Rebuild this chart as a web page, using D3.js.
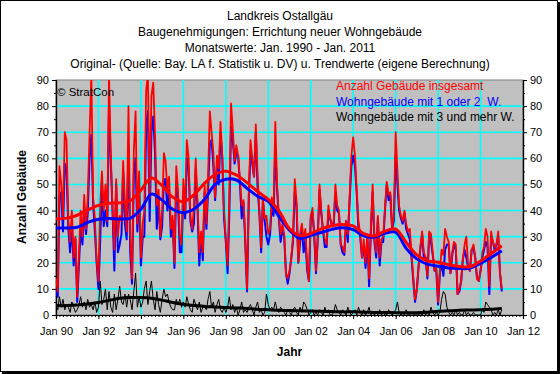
<!DOCTYPE html>
<html>
<head>
<meta charset="utf-8">
<script src="https://cdn.jsdelivr.net/npm/d3@7"></script>
<style>
  body { margin: 0; background: #fff; }
  text { font-family: Arial, "Liberation Sans", sans-serif; }
</style>
</head>
<body>
<svg id="chart"></svg>
<script>
// titles and legend
const titleLines = [
    "Landkreis Ostallgäu",
    "Baugenehmigungen: Errichtung neuer Wohngebäude",
    "Monatswerte: Jan. 1990 - Jan. 2011",
    "Original- (Quelle: Bay. LA f. Statistik u. DV) u. Trendwerte (eigene Berechnung)"
];
const legendLabels = ["Anzahl Gebäude insgesamt", "Wohngebäude mit 1 oder 2  W.", "Wohngebäude mit 3 und mehr W."];
const legendColors = ["#ff0000", "#0000ff", "#000000"];

// monthly values Jan 1990 .. Jan 2011
const total = [
    14, 9, 57, 50, 38, 70, 67, 36, 28, 40, 22, 30,   // 1990
    7, 24, 40, 30, 46, 33, 45, 69, 92, 45, 37, 21,   // 1991
    13, 42, 55, 40, 50, 36, 92, 61, 40, 25, 52, 30,  // 1992
    38, 36, 59, 43, 32, 80, 30, 14, 63, 78, 35, 55,  // 1993
    22, 35, 40, 86, 92, 45, 84, 89, 69, 42, 48, 30,  // 1994
    40, 62, 59, 48, 53, 33, 38, 20, 57, 48, 30, 27,  // 1995
    52, 40, 67, 60, 38, 33, 41, 60, 43, 24, 32, 24,  // 1996
    50, 35, 53, 78, 70, 62, 45, 61, 56, 74, 61, 40,  // 1997
    29, 19, 45, 81, 71, 59, 65, 61, 52, 42, 44, 30,  // 1998
    10, 48, 67, 60, 53, 73, 54, 40, 26, 44, 37, 38,  // 1999
    31, 33, 45, 40, 74, 50, 38, 31, 35, 31, 16, 14,  // 2000
    17, 22, 30, 52, 44, 20, 31, 35, 29, 33, 19, 13,  // 2001
    38, 41, 31, 17, 29, 50, 40, 32, 29, 27, 42, 37,  // 2002
    34, 36, 50, 42, 40, 27, 26, 24, 36, 31, 45, 61,  // 2003
    68, 61, 48, 36, 31, 22, 29, 20, 31, 14, 33, 50,  // 2004
    29, 24, 38, 22, 29, 30, 41, 51, 46, 47, 33, 38,  // 2005
    70, 55, 42, 38, 36, 40, 35, 32, 33, 24, 14, 6,   // 2006
    10, 19, 26, 32, 24, 22, 15, 32, 31, 24, 17, 18,  // 2007
    5, 17, 25, 23, 33, 30, 28, 16, 24, 28, 27, 8,    // 2008
    10, 13, 21, 27, 30, 19, 17, 25, 27, 22, 14, 13,  // 2009
    17, 24, 26, 33, 30, 11, 32, 28, 26, 27, 32, 16,  // 2010
    10                                               // Jan 2011
];
const oneTwo = [
    10, 7, 45, 47, 32, 58, 56, 33, 24, 35, 19, 29,
    5, 20, 33, 27, 41, 31, 39, 60, 69, 43, 32, 20,
    10, 29, 51, 34, 40, 34, 80, 58, 39, 17, 50, 24,
    27, 31, 55, 35, 29, 65, 24, 12, 54, 60, 32, 48,
    19, 30, 30, 72, 78, 36, 70, 76, 62, 33, 44, 29,
    34, 52, 52, 40, 48, 30, 36, 18, 51, 44, 24, 24,
    47, 37, 60, 56, 36, 32, 35, 56, 41, 19, 31, 21,
    47, 33, 47, 66, 67, 57, 44, 57, 50, 70, 60, 37,
    28, 16, 38, 72, 67, 58, 62, 61, 50, 37, 43, 28,
    9, 45, 63, 58, 53, 70, 49, 39, 24, 44, 36, 30,
    27, 31, 42, 38, 64, 48, 37, 28, 33, 30, 16, 12,
    16, 22, 28, 47, 42, 20, 28, 33, 24, 29, 17, 13,
    37, 39, 31, 16, 29, 48, 39, 32, 26, 26, 40, 37,
    34, 35, 46, 40, 39, 27, 24, 23, 36, 28, 44, 57,
    61, 57, 47, 33, 30, 22, 26, 18, 30, 11, 33, 47,
    28, 22, 37, 19, 28, 28, 40, 50, 44, 46, 33, 36,
    61, 50, 40, 37, 35, 39, 33, 31, 29, 22, 13, 5,
    10, 19, 25, 31, 22, 22, 14, 31, 28, 23, 17, 17,
    4, 16, 20, 15, 25, 27, 27, 16, 23, 27, 25, 8,
    9, 13, 21, 25, 22, 18, 17, 25, 26, 22, 14, 13,
    17, 22, 25, 28, 26, 8, 30, 28, 25, 27, 30, 16,
    9
];
const threePlus = [
    4, 2, 7, 3, 6, 2, 4, 3, 1, 5, 3, 1,
    2, 4, 7, 3, 5, 2, 6, 3, 4, 2, 5, 1,
    3, 13, 4, 6, 10, 2, 9, 3, 1, 8, 2, 6,
    11, 5, 4, 8, 3, 8, 6, 2, 9, 16, 3, 7,
    3, 5, 10, 13, 4, 9, 13, 6, 2, 9, 4, 1,
    6, 10, 7, 8, 5, 3, 2, 2, 6, 4, 6, 3,
    5, 3, 7, 4, 2, 1, 6, 4, 2, 5, 1, 3,
    3, 2, 6, 9, 3, 5, 1, 4, 6, 2, 1, 3,
    1, 3, 7, 2, 4, 1, 3, 0, 2, 5, 1, 2,
    1, 3, 4, 2, 0, 3, 5, 1, 2, 0, 1, 8,
    4, 2, 3, 2, 5, 2, 1, 3, 2, 1, 0, 2,
    1, 0, 2, 3, 1, 0, 3, 1, 5, 4, 2, 0,
    1, 2, 0, 1, 0, 2, 1, 0, 3, 1, 2, 0,
    0, 1, 4, 2, 1, 0, 2, 1, 0, 3, 1, 0,
    1, 2, 0, 3, 1, 0, 2, 0, 1, 3, 0, 1,
    0, 1, 0, 2, 0, 1, 0, 0, 2, 1, 0, 1,
    2, 5, 1, 0, 1, 0, 2, 0, 0, 1, 0, 0,
    0, 0, 1, 0, 2, 0, 1, 0, 3, 1, 0, 1,
    0, 1, 6, 9, 8, 3, 1, 0, 1, 0, 2, 0,
    1, 0, 0, 2, 0, 1, 0, 0, 1, 0, 0, 0,
    0, 2, 1, 5, 4, 3, 2, 0, 1, 0, 2, 0,
    2
];

// trend values, every 6 months Jan 1990 .. Jan 2011
const totalTrend = [36.8, 37.1, 38.2, 40.2, 42, 42.8, 43, 43.8, 47.8, 52.5, 49.5, 45.2, 43.4, 46, 50.5, 53.8,
    55.1, 53.6, 50.7, 47.3, 44.3, 40, 33, 30.4, 31.2, 33, 34.2, 34.7, 34.1, 31.2, 30.3, 32.1, 32.9, 27.8,
    23, 20.7, 20.2, 19.3, 18.6, 18.5, 20.7, 23.5, 26.5];
const oneTwoTrend = [33.3, 33.3, 33.6, 35.5, 36.7, 37, 36.8, 37, 40.5, 46.3, 44, 40.5, 39.2, 40.6, 44.3, 50,
    52, 51.7, 48.5, 45.5, 43.5, 37.8, 32.5, 29.3, 30.5, 31.6, 32.8, 33.4, 32.7, 30.3, 29.8, 31.3, 31.7, 25.5,
    21.5, 19.5, 18.7, 18, 17.8, 17.9, 19.8, 22, 24.6];
const threePlusTrend = [3.6, 3.6, 3.8, 4.2, 4.8, 5.6, 6.4, 6.7, 6.7, 6.4, 5.7, 4.8, 4.1, 3.6, 3.3, 3.1,
    2.9, 2.7, 2.5, 2.2, 2.0, 1.8, 1.7, 1.6, 1.5, 1.4, 1.3, 1.2, 1.2, 1.1, 1.0, 1.0, 0.9, 0.9,
    0.9, 1.1, 1.4, 1.6, 1.8, 1.9, 2.0, 2.2, 2.5];

const yTicks = [0, 10, 20, 30, 40, 50, 60, 70, 80, 90];
const xTickYears = [1990, 1992, 1994, 1996, 1998, 2000, 2002, 2004, 2006, 2008, 2010, 2012];

const width = 560, height = 374;
const plotLeft = 56, plotRight = 523, plotTop = 80, plotBottom = 315;

const svg = d3.select("#chart")
    .attr("width", width)
    .attr("height", height);

// frame with shadow
svg.append("rect").attr("x", 2).attr("y", 2).attr("width", 558).attr("height", 372).attr("fill", "#000");
svg.append("rect").attr("x", 0.5).attr("y", 0.5).attr("width", 557).attr("height", 371)
    .attr("fill", "#fff").attr("stroke", "#000");

const x = d3.scaleTime()
    .domain([new Date(1990, 0, 1), new Date(2012, 0, 1)])
    .range([plotLeft, plotRight]);
const y = d3.scaleLinear().domain([0, 90]).range([plotBottom, plotTop]);

// titles
svg.append("g").selectAll("text")
    .data(titleLines)
    .join("text")
    .attr("x", 280)
    .attr("y", (d, i) => [20, 35.5, 51.5, 68][i])
    .attr("text-anchor", "middle")
    .style("font-size", "12px")
    .text(d => d);

// plot area
svg.append("rect")
    .attr("x", plotLeft).attr("y", plotTop)
    .attr("width", plotRight - plotLeft).attr("height", plotBottom - plotTop)
    .attr("fill", "#c0c0c0")
    .attr("stroke", "#808080");

svg.append("clipPath").attr("id", "clip")
    .append("rect").attr("x", plotLeft).attr("y", plotTop)
    .attr("width", plotRight - plotLeft).attr("height", plotBottom - plotTop);

// grid
const grid = svg.append("g").attr("stroke", "#00ffff").attr("stroke-width", 1.6);
grid.selectAll(".h").data(yTicks.slice(1, -1)).join("line")
    .attr("x1", plotLeft).attr("x2", plotRight)
    .attr("y1", d => y(d)).attr("y2", d => y(d));
grid.selectAll(".v").data(xTickYears.slice(1, -1)).join("line")
    .attr("x1", d => x(new Date(d, 0, 1))).attr("x2", d => x(new Date(d, 0, 1)))
    .attr("y1", plotTop).attr("y2", plotBottom);

// axes
const minorY = d3.range(5, 90, 10);
svg.append("g").attr("transform", `translate(${plotLeft},0)`)
    .call(d3.axisLeft(y).tickValues(yTicks).tickSize(4).tickPadding(3));
svg.append("g").attr("transform", `translate(${plotLeft},0)`)
    .call(d3.axisLeft(y).tickValues(minorY).tickSize(2).tickFormat(""));
svg.append("g").attr("transform", `translate(${plotRight},0)`)
    .call(d3.axisRight(y).tickValues(yTicks).tickSize(4).tickPadding(3));
svg.append("g").attr("transform", `translate(${plotRight},0)`)
    .call(d3.axisRight(y).tickValues(minorY).tickSize(2).tickFormat(""));

const monthTicks = d3.range(0, 264, 2).map(i => new Date(1990, i, 1));
svg.append("g").attr("transform", `translate(0,${plotBottom})`)
    .call(d3.axisBottom(x).tickValues(monthTicks).tickSize(2).tickFormat(""));
svg.append("g").attr("transform", `translate(0,${plotBottom})`)
    .call(d3.axisBottom(x)
        .tickValues(xTickYears.map(yr => new Date(yr, 0, 1)))
        .tickSize(4).tickPadding(8)
        .tickFormat(d => "Jan " + d3.timeFormat("%y")(d)));

svg.selectAll(".domain").attr("stroke", "#000").attr("stroke-width", 1.2);
svg.selectAll(".tick line").attr("stroke", "#000");
svg.selectAll(".tick text").style("font-size", "11px").attr("fill", "#000")
    .style("font-family", "Arial, 'Liberation Sans', sans-serif");

// axis titles
svg.append("text")
    .attr("transform", "translate(26,197) rotate(-90)")
    .attr("text-anchor", "middle")
    .style("font-size", "12px").style("font-weight", "bold")
    .text("Anzahl Gebäude");
svg.append("text")
    .attr("x", 289.5).attr("y", 356)
    .attr("text-anchor", "middle")
    .style("font-size", "12px").style("font-weight", "bold")
    .text("Jahr");

// series
const monthly = arr => arr.map((v, i) => ({ date: new Date(1990, i, 1), v }));
const halfYear = arr => arr.map((v, i) => ({ date: new Date(1990, i * 6, 1), v }));

const line = d3.line().x(d => x(d.date)).y(d => y(d.v));
const smooth = d3.line().x(d => x(d.date)).y(d => y(d.v)).curve(d3.curveCatmullRom);

const plot = svg.append("g").attr("clip-path", "url(#clip)")
    .attr("fill", "none").attr("stroke-linejoin", "round");

// blue under red, so the totals dominate like in the original
plot.append("path").datum(monthly(oneTwo)).attr("d", line)
    .attr("stroke", "#0000ff").attr("stroke-width", 2);
plot.append("path").datum(monthly(total)).attr("d", line)
    .attr("stroke", "#ff0000").attr("stroke-width", 1.8);
plot.append("path").datum(monthly(threePlus)).attr("d", line)
    .attr("stroke", "#000").attr("stroke-width", 1);

plot.append("path").datum(halfYear(oneTwoTrend)).attr("d", smooth)
    .attr("stroke", "#0000ff").attr("stroke-width", 3);
plot.append("path").datum(halfYear(totalTrend)).attr("d", smooth)
    .attr("stroke", "#ff0000").attr("stroke-width", 3);
plot.append("path").datum(halfYear(threePlusTrend)).attr("d", smooth)
    .attr("stroke", "#000").attr("stroke-width", 3);

// legend texts and copyright
svg.append("g").selectAll("text")
    .data(legendLabels)
    .join("text")
    .attr("x", 336)
    .attr("y", (d, i) => 90 + i * 15.5)
    .attr("fill", (d, i) => legendColors[i])
    .style("font-size", "12px")
    .style("white-space", "pre")
    .text(d => d);

svg.append("text")
    .attr("x", 57).attr("y", 95.5)
    .style("font-size", "11.5px")
    .text("© StratCon");
</script>
</body>
</html>
